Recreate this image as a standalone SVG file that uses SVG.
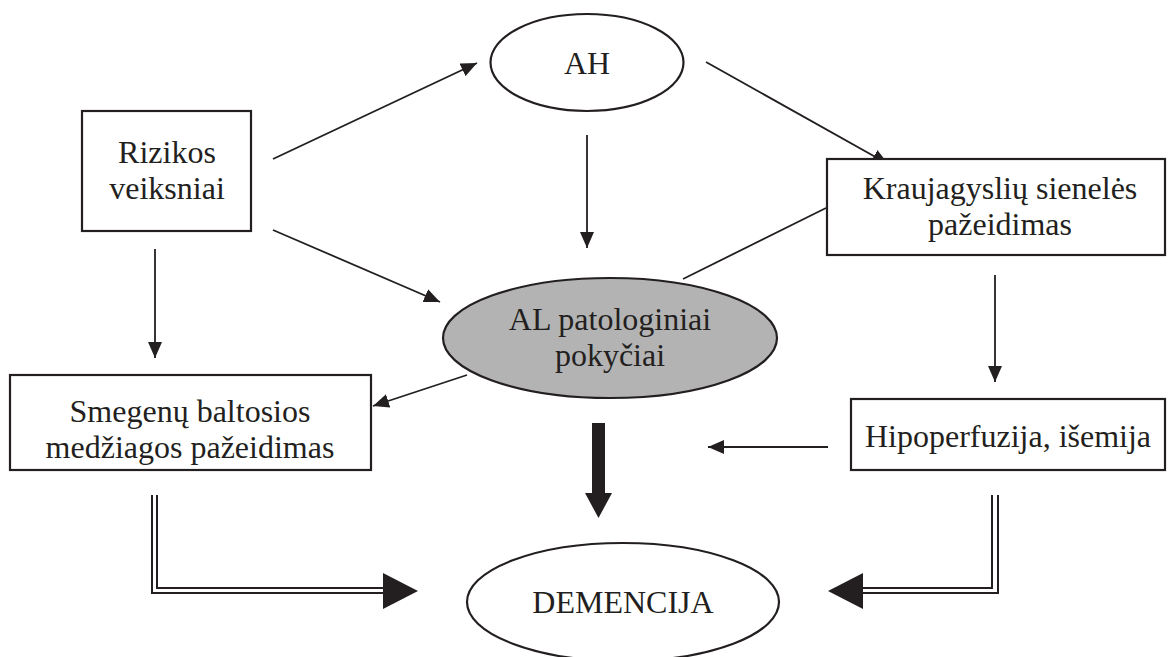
<svg xmlns="http://www.w3.org/2000/svg" width="1175" height="657" viewBox="0 0 1175 657">
<style>
.box{fill:#fff;stroke:#231f20;stroke-width:2.2}
.gray{fill:#b3b3b3;stroke:#231f20;stroke-width:2.2}
.t{font-family:"Liberation Serif","Times New Roman",serif;font-size:32px;fill:#231f20;text-anchor:middle}
.ln{fill:none;stroke:#231f20;stroke-width:1.8}
.dl{fill:none;stroke:#231f20;stroke-width:2}
</style>
<defs>
<marker id="ah" markerUnits="userSpaceOnUse" markerWidth="16" markerHeight="14" refX="16" refY="7" orient="auto">
<path d="M0,0 L16,7 L0,14 Z" fill="#231f20"/>
</marker>
</defs>
<rect width="1175" height="657" fill="#fff"/>
<g id="connectors">
<line class="ln" x1="273" y1="159" x2="477" y2="63" marker-end="url(#ah)"/>
<line class="ln" x1="706" y1="62" x2="888" y2="164" marker-end="url(#ah)"/>
<line class="ln" x1="273" y1="230" x2="440" y2="302" marker-end="url(#ah)"/>
<line class="ln" x1="587" y1="135" x2="587" y2="248" marker-end="url(#ah)"/>
<line class="ln" x1="155" y1="249" x2="155" y2="358" marker-end="url(#ah)"/>
<line class="ln" x1="826" y1="208" x2="683" y2="279"/>
<line class="ln" x1="467" y1="375" x2="373" y2="406" marker-end="url(#ah)"/>
<line class="ln" x1="995" y1="275" x2="995" y2="382" marker-end="url(#ah)"/>
<line class="ln" x1="828" y1="447" x2="708" y2="447" marker-end="url(#ah)"/>
<path d="M592,423 H605 V493 H612 L598.5,518 L585,493 H592 Z" fill="#231f20"/>
<path class="dl" d="M152,495 V593 H386"/>
<path class="dl" d="M157,495 V588 H386"/>
<path d="M383,573 L418,591 L383,609 Z" fill="#231f20"/>
<path class="dl" d="M998,495 V593 H860"/>
<path class="dl" d="M992,495 V588 H860"/>
<path d="M863,573 L828,591 L863,609 Z" fill="#231f20"/>
</g>
<g id="ah-node">
<ellipse class="box" cx="587" cy="62.5" rx="96.5" ry="48.5"/>
<text class="t" x="587" y="74">AH</text>
</g>
<g id="rizikos">
<rect class="box" x="82" y="111" width="169" height="120"/>
<text class="t" x="167" y="163">Rizikos</text>
<text class="t" x="167" y="199">veiksniai</text>
</g>
<g id="kraujagysliu">
<rect class="box" x="827" y="159" width="338" height="96"/>
<text class="t" x="1000" y="199">Kraujagyslių sienelės</text>
<text class="t" x="1000" y="235">pažeidimas</text>
</g>
<g id="al">
<ellipse class="gray" cx="610" cy="338" rx="167" ry="60"/>
<text class="t" x="610" y="330">AL patologiniai</text>
<text class="t" x="610" y="366">pokyčiai</text>
</g>
<g id="smegenu">
<rect class="box" x="10" y="375" width="361" height="95"/>
<text class="t" x="190" y="422">Smegenų baltosios</text>
<text class="t" x="190" y="458">medžiagos pažeidimas</text>
</g>
<g id="hipoperfuzija">
<rect class="box" x="851" y="399" width="314" height="71"/>
<text class="t" x="1008" y="447">Hipoperfuzija, išemija</text>
</g>
<g id="demencija">
<ellipse class="box" cx="623" cy="602" rx="156" ry="59"/>
<text class="t" x="623" y="613">DEMENCIJA</text>
</g>
</svg>
